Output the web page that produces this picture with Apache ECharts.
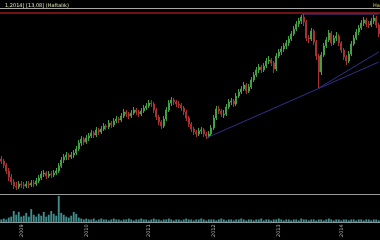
<!DOCTYPE html>
<html><head><meta charset="utf-8">
<script src="https://cdn.jsdelivr.net/npm/echarts@6/dist/echarts.min.js"></script>
<style>html,body{margin:0;padding:0;background:#000}#c{width:380px;height:240px}</style>
</head><body><div id="c"></div>
<script>
// [open, close, low, high] per two-week bar
const ohlc = [
[41,39,36,44],[39,35,32,41],[35,29,26,37],[29,23,19,32],[23,18,15,26],[18,14,11,21],[14,13,10,18],[13,16,11,19],
[16,15,12,19],[15,14,11,18],[14,16,12,19],[16,15,12,19],[15,17,13,20],[17,16,13,20],[16,19,14,22],[19,22,17,25],
[22,26,20,29],[26,27,23,30],[27,24,21,29],[24,26,22,29],[26,25,22,29],[25,27,23,30],[27,29,25,32],[29,34,27,37],
[34,40,32,43],[40,43,37,46],[43,45,40,48],[45,43,40,47],[43,45,41,48],[45,47,42,50],[47,51,45,54],[51,57,49,60],
[57,61,54,64],[61,58,55,63],[58,62,56,65],[62,64,59,67],[64,67,62,70],[67,65,62,69],[65,70,63,73],[70,68,65,72],
[68,71,66,74],[71,74,69,77],[74,73,70,76],[73,77,71,80],[77,75,72,79],[75,79,73,82],[79,81,77,84],[81,80,77,83],
[80,84,78,87],[84,88,82,91],[88,86,83,90],[86,84,81,88],[84,87,82,90],[87,90,85,93],[90,88,85,92],[88,86,83,90],
[86,89,84,92],[89,92,87,95],[92,94,90,97],[94,97,92,100],[97,96,93,100],[96,90,87,98],[90,83,80,92],[83,78,75,85],
[78,74,71,80],[74,81,72,84],[81,90,79,93],[90,97,88,100],[97,100,94,103],[100,98,95,102],[98,96,93,100],[96,95,92,99],
[95,92,89,97],[92,88,85,94],[88,82,79,90],[82,76,73,84],[76,71,68,78],[71,68,65,73],[68,66,63,70],[66,69,64,72],
[69,70,66,73],[70,66,63,72],[66,64,61,68],[64,66,62,69],[66,72,64,75],[72,82,70,85],[82,91,80,94],[91,89,86,94],
[89,86,83,91],[85,86,82,90],[86,93,84,96],[93,98,91,101],[98,99,95,102],[99,96,93,101],[96,104,94,107],[104,108,102,111],
[108,111,106,114],[111,115,109,118],[115,109,106,117],[109,113,107,116],[113,120,111,123],[120,125,118,128],[125,130,123,133],[130,133,127,136],
[133,130,127,135],[130,134,128,137],[134,139,132,142],[139,140,136,144],[140,137,134,142],[137,131,127,139],[131,144,129,147],[144,148,142,151],
[148,151,145,154],[151,154,148,157],[154,157,151,160],[157,161,154,164],[161,166,159,169],[166,171,164,174],[171,176,169,179],[176,179,173,182],
[179,183,176,185],[183,178,174,186],[178,162,159,180],[162,161,157,165],[161,169,159,172],[169,158,155,171],[158,144,140,160],[144,128,112,146],
[128,145,125,148],[145,154,143,157],[154,160,152,163],[160,167,158,170],[167,157,154,169],[157,162,155,165],[162,164,159,168],[164,157,154,166],
[157,150,147,159],[150,143,140,152],[143,139,135,145],[139,146,137,149],[146,156,144,159],[156,162,154,165],[162,168,160,171],[168,172,165,175],
[172,177,170,180],[177,180,174,183],[180,176,173,182],[176,175,172,179],[175,179,173,182],[179,182,176,185],[182,175,172,184],[175,166,163,177]
];
const volume = [
3,4,3,5,6,12,8,11,6,7,10,6,14,8,6,9,7,11,6,8,12,9,7,28,10,8,6,5,7,11,9,5,
4,3,4,3,3,4,2,3,4,3,3,2,3,4,3,3,2,3,3,4,3,2,3,3,4,3,3,2,3,4,3,3,
2,3,3,4,3,2,3,3,2,3,4,3,3,2,3,3,4,3,2,3,3,3,2,3,4,3,2,3,3,2,3,3,
4,3,2,3,3,2,3,3,4,2,3,3,2,3,3,4,3,2,3,3,2,3,3,2,4,3,3,2,3,3,2,3,
3,2,3,4,3,2,3,3,2,3,3,2,3,3,2,3,3,2,3,3,2,3,3,2
];
const yearLabels = {8:'2009', 34:'2010', 59:'2011', 85:'2012', 111:'2013', 136:'2014'};
const trendLong = [[82,62],[151,138]];
const trendShort = [[127,112],[151,148]];
const peakLine = [[120,186],[151,186]];
const resistance = [187];
const headerLeft = '1,2014] [13,08] (Haftalık)';
const headerRight = 'Haftalık';

const categories = ohlc.map((d, i) => String(i));
const chart = echarts.init(document.getElementById('c'), null, {renderer:'canvas'});
const labelShow = (i) => yearLabels[i] !== undefined;
chart.setOption({
  backgroundColor: '#000',
  animation: false,
  title: [
    {text: headerLeft, left: 0, top: -2, textStyle:{color:'#e6e6b8', fontSize:5, fontWeight:'normal', fontFamily:'DejaVu Sans'}},
    {text: headerRight, left: 368, top: -2, textStyle:{color:'#e0d050', fontSize:5, fontWeight:'normal', fontFamily:'DejaVu Sans'}}
  ],
  grid: [
    {left:0, right:0, top:8, height:186},
    {left:0, right:0, top:195, height:29}
  ],
  xAxis: [
    {type:'category', data:categories, gridIndex:0, boundaryGap:true,
     axisLine:{show:true, lineStyle:{color:'#9a9a9a', width:1}}, axisTick:{show:false}, axisLabel:{show:false}, splitLine:{show:false}},
    {type:'category', data:categories, gridIndex:1, boundaryGap:true,
     axisLine:{show:true, lineStyle:{color:'#9a9a9a', width:1}}, axisTick:{show:false},
     axisLabel:{show:true, interval:(i)=>labelShow(i), formatter:(v,i)=>yearLabels[i]||'', rotate:90, color:'#b8b8b8', fontSize:5, margin:2, fontFamily:'DejaVu Sans'},
     splitLine:{show:false}},
    {type:'category', data:categories, gridIndex:0, position:'top', boundaryGap:true,
     axisLine:{show:true, lineStyle:{color:'#a8a8a8', width:1}}, axisTick:{show:false}, axisLabel:{show:false}}
  ],
  yAxis: [
    {type:'value', gridIndex:0, min:6, max:192, show:false, splitLine:{show:false}},
    {type:'value', gridIndex:1, min:0, max:29, show:false, splitLine:{show:false}}
  ],
  series: [
    {type:'candlestick', xAxisIndex:0, yAxisIndex:0, data:ohlc, barWidth:1.6,
     itemStyle:{color:'#2f7f2f', color0:'#8e2a2a', borderColor:'#44a044', borderColor0:'#a83232', borderWidth:1},
     markLine:{silent:true, symbol:'none', label:{show:false},
       lineStyle:{color:'#9a1818', width:1.5, type:'solid'},
       data: resistance.map(v=>({yAxis:v}))}},
    {type:'line', xAxisIndex:0, yAxisIndex:0, data:trendLong, showSymbol:false, lineStyle:{color:'#30308c', width:1}},
    {type:'line', xAxisIndex:0, yAxisIndex:0, data:trendShort, showSymbol:false, lineStyle:{color:'#30308c', width:1}},
    {type:'line', xAxisIndex:0, yAxisIndex:0, data:peakLine, showSymbol:false, lineStyle:{color:'#6a3a8e', width:1}},
    {type:'bar', xAxisIndex:1, yAxisIndex:1, data:volume, barWidth:'75%', itemStyle:{color:'#428e8e'}}
  ]
});
</script></body></html>
